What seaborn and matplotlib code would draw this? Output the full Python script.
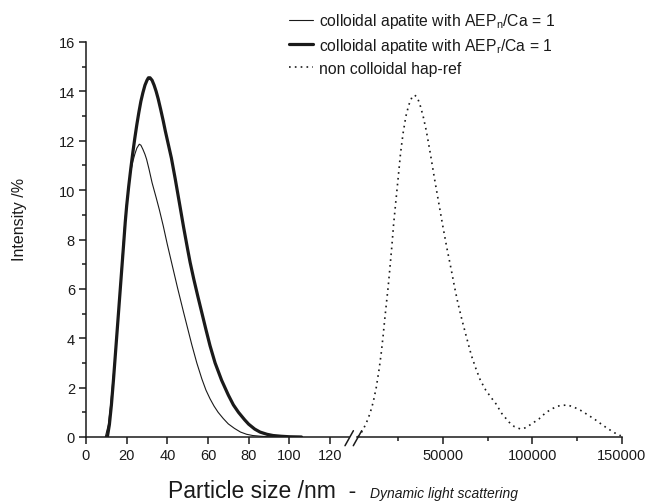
import numpy as np
import pandas as pd
import seaborn as sns
import matplotlib
matplotlib.use("Agg")
import matplotlib.pyplot as plt
from matplotlib.ticker import MultipleLocator

# curve: AEPn/Ca = 1 (thin line), x in nm
thin_x = [9.5, 11, 12, 13, 14, 15, 16, 17, 18, 19, 20, 21, 22, 23, 24, 25, 26.2,
          27, 28, 29, 29.8, 31, 32.5, 34.5, 36.1, 38, 40, 42, 45, 48, 50, 52, 54.5,
          57, 59, 61, 63, 65, 67.5, 70, 73, 76, 79, 82, 86, 90, 95]
thin_y = [0, 0.5, 1.2, 2.1, 3.0, 4.1, 5.1, 6.3, 7.5, 8.6, 9.5, 10.2, 10.75, 11.15, 11.45, 11.7, 11.86,
          11.82, 11.65, 11.45, 11.25, 10.85, 10.3, 9.7, 9.2, 8.55, 7.8, 7.1, 6.05, 5.05, 4.4, 3.75, 3.0,
          2.35, 1.9, 1.55, 1.25, 1.0, 0.75, 0.53, 0.35, 0.2, 0.11, 0.06, 0.03, 0.01, 0]

# AEPr/Ca = 1 (thick line)
thick_x = [10.5, 11.5, 12.5, 13.5, 14.5, 15.5, 16.5, 17.5, 18.5, 19.3, 20, 21, 22, 23, 24,
           25, 26, 27, 28, 29, 30, 30.7, 31.5, 32.5, 33.5, 34.5, 35.5, 36.7, 38, 39, 40.5,
           42, 43.9, 46.2, 48, 50, 51.2, 53, 55, 56.9, 59, 61, 63.5, 66.7, 70, 72.5, 75,
           78, 80, 83, 85.6, 89, 92, 96, 100, 106]
thick_y = [0, 0.5, 1.3, 2.3, 3.4, 4.5, 5.6, 6.7, 7.8, 8.7, 9.36, 10.15, 10.85, 11.5, 12.1,
           12.65, 13.15, 13.6, 13.95, 14.25, 14.45, 14.55, 14.55, 14.45, 14.25, 14.0, 13.7, 13.28, 12.8, 12.4, 11.85,
           11.3, 10.45, 9.36, 8.5, 7.6, 7.08, 6.4, 5.7, 5.06, 4.35, 3.7, 3.0, 2.3, 1.7, 1.3, 1.0,
           0.7, 0.52, 0.32, 0.2, 0.11, 0.06, 0.03, 0.01, 0]

# non colloidal hap-ref (dotted), right part of the broken axis
ref_x = [2500, 4670, 6000, 7440, 9300, 11110, 12800, 14450, 15600, 16670, 17600, 18560,
         19500, 20390, 21500, 22500, 23700, 25000, 26400, 27800, 29400, 31000, 32700,
         34280, 35800, 37300, 39000, 40800, 43000, 45400, 47700, 50000, 52300, 54670,
         56500, 58340, 60700, 63000, 66000, 68560, 71000, 74000, 77000, 79670, 83000,
         87060, 90000, 93560, 96500, 100000, 103730, 107000, 110000, 114000, 119450,
         123000, 127000, 131000, 135230, 139000, 142000, 146000, 149500]
ref_y = [0, 0.2, 0.38, 0.6, 0.95, 1.41, 2.0, 2.76, 3.4, 4.11, 4.8, 5.46,
         6.1, 6.8, 7.7, 8.6, 9.5, 10.45, 11.5, 12.3, 13.0, 13.45, 13.75,
         13.85, 13.75, 13.45, 13.0, 12.4, 11.5, 10.45, 9.5, 8.55, 7.65, 6.8,
         6.1, 5.46, 4.75, 4.11, 3.3, 2.76, 2.3, 1.9, 1.6, 1.35, 0.95,
         0.6, 0.42, 0.32, 0.38, 0.55, 0.73, 0.95, 1.1, 1.25, 1.3,
         1.22, 1.08, 0.9, 0.7, 0.5, 0.35, 0.17, 0.05]

labels = ["colloidal apatite with AEP$_n$/Ca = 1",
          "colloidal apatite with AEP$_r$/Ca = 1",
          "non colloidal hap-ref"]

sns.set_style("ticks")
plt.rcParams["font.family"] = ["Liberation Sans", "DejaVu Sans"]
plt.rcParams["mathtext.default"] = "regular"
ink = "#1a1a1a"

W, H = 651, 502
fig = plt.figure(figsize=(W / 100, H / 100), dpi=100)
bot, top = 438, 43
ax1 = fig.add_axes([86 / W, (H - bot) / H, (349 - 86) / W, (bot - top) / H])
ax2 = fig.add_axes([357 / W, (H - bot) / H, (621.7 - 357) / W, (bot - top) / H])

sns.lineplot(x=thin_x, y=thin_y, ax=ax1, color=ink, lw=0.8, legend=False)
sns.lineplot(x=thick_x, y=thick_y, ax=ax1, color=ink, lw=2.3, legend=False)
sns.lineplot(x=ref_x, y=ref_y, ax=ax2, color=ink, lw=1.2,
             linestyle=(0, (1, 2.5)), legend=False)

ax1.set_xlim(0, (349 - 86) / 2.033)
ax1.set_ylim(0, 16)
ax2.set_xlim((357 - 353.3) * 555.6, 150000)
ax2.set_ylim(0, 16)

for ax in (ax1, ax2):
    for s in ("top", "right"):
        ax.spines[s].set_visible(False)
    for s in ("left", "bottom"):
        ax.spines[s].set_linewidth(1.1)
        ax.spines[s].set_color(ink)
    ax.tick_params(which="major", direction="out", length=5, width=1.1,
                   colors=ink, labelsize=10.5, pad=3)
    ax.tick_params(which="minor", direction="out", length=3, width=1.1, colors=ink)
    ax.set_xlabel("")
    ax.set_ylabel("")

ax1.set_xticks([0, 20, 40, 60, 80, 100, 120])
ax1.yaxis.set_major_locator(MultipleLocator(2))
ax1.yaxis.set_minor_locator(MultipleLocator(1))
ax1.set_ylabel("Intensity /%", fontsize=11.5, color=ink)
ax1.yaxis.set_label_coords(-0.225, 0.554)

ax2.spines["left"].set_visible(False)
ax2.set_yticks([])
ax2.set_xticks([50000, 100000, 150000])
ax2.xaxis.set_minor_locator(MultipleLocator(25000))

# break marks on the x axis
for x0 in (345, 353.3):
    fig.add_artist(plt.Line2D([x0 / W, (x0 + 8.4) / W],
                              [(H - 446.7) / H, (H - 431.7) / H],
                              color=ink, lw=1.1))

fig.text(168 / W, (H - 498) / H, "Particle size /nm  -", fontsize=16.5,
         color=ink, va="baseline")
fig.text(370 / W, (H - 498) / H, "Dynamic light scattering", fontsize=10,
         style="italic", color=ink, va="baseline")

handles = [ax1.lines[0], ax1.lines[1], ax2.lines[0]]
fig.legend(handles, labels, loc="upper left", bbox_to_anchor=(289 / W, 1 - 12 / H),
           frameon=False, fontsize=11.3, handlelength=1.5, handletextpad=0.4,
           labelspacing=0.38, borderpad=0, borderaxespad=0, labelcolor=ink)

fig.savefig("out.png", dpi=100)
